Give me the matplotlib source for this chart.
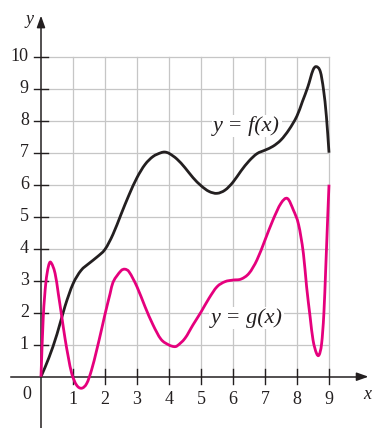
import numpy as np
import matplotlib
matplotlib.use("Agg")
import matplotlib.pyplot as plt
from matplotlib.path import Path
from matplotlib.patches import PathPatch

# ---- data ----
x_ticks = [1, 2, 3, 4, 5, 6, 7, 8, 9]
y_ticks = [1, 2, 3, 4, 5, 6, 7, 8, 9, 10]

f_x = [0, 0.25, 0.5, 0.75, 1.0, 1.25, 1.5, 1.75, 2.0, 2.25, 2.5, 2.75, 3.0,
       3.25, 3.5, 3.75, 3.87, 4.0, 4.25, 4.5, 4.75, 5.0, 5.25, 5.5, 5.75, 6.0,
       6.25, 6.5, 6.75, 7.0, 7.25, 7.5, 7.75, 8.0, 8.17, 8.34, 8.5, 8.6, 8.73,
       8.83, 8.92, 9.0]
f_y = [0, 0.6, 1.33, 2.2, 2.9, 3.32, 3.54, 3.74, 3.98, 4.45, 5.07, 5.68, 6.22,
       6.63, 6.88, 7.0, 7.02, 6.98, 6.8, 6.53, 6.22, 5.97, 5.79, 5.73, 5.83, 6.08,
       6.43, 6.74, 6.97, 7.08, 7.2, 7.4, 7.72, 8.15, 8.6, 9.06, 9.58, 9.69, 9.53,
       8.96, 8.12, 7.0]

g_x = [0, 0.07, 0.15, 0.23, 0.3, 0.44, 0.54, 0.65, 0.75, 0.85, 0.96, 1.11,
       1.27, 1.43, 1.58, 1.74, 1.9, 2.0, 2.16, 2.25, 2.5, 2.62, 2.75, 3.0, 3.25,
       3.5, 3.75, 4.0, 4.16, 4.25, 4.5, 4.75, 5.0, 5.25, 5.5, 5.75, 6.0, 6.25,
       6.5, 6.75, 7.0, 7.25, 7.5, 7.7, 7.89, 8.05, 8.2, 8.3, 8.41, 8.5, 8.61,
       8.69, 8.77, 8.84, 8.9, 8.96, 9.0]
g_y = [0, 1.85, 2.92, 3.44, 3.58, 3.23, 2.6, 1.87, 1.2, 0.63, 0.1, -0.26,
       -0.36, -0.21, 0.21, 0.83, 1.51, 1.95, 2.6, 2.95, 3.31, 3.36, 3.28, 2.81, 2.19,
       1.62, 1.17, 0.99, 0.94, 0.96, 1.2, 1.62, 2.02, 2.45, 2.81, 2.97, 3.02, 3.05,
       3.23, 3.65, 4.27, 4.9, 5.42, 5.57, 5.2, 4.75, 3.85, 2.81, 1.87, 1.15, 0.73,
       0.68, 1.04, 1.98, 3.44, 5.0, 6.0]

f_label = "y = f(x)"
g_label = "y = g(x)"

BLACK = "#231f20"
MAGENTA = "#e5007d"
GRID = "#c6c6c6"


def smooth_path(xs, ys):
    """Cubic Hermite curve through the read points, as Bezier segments."""
    x = np.asarray(xs, float)
    y = np.asarray(ys, float)
    n = len(x)
    m = np.empty(n)
    m[0] = (y[1] - y[0]) / (x[1] - x[0])
    m[-1] = (y[-1] - y[-2]) / (x[-1] - x[-2])
    for i in range(1, n - 1):
        m[i] = (y[i + 1] - y[i - 1]) / (x[i + 1] - x[i - 1])
    verts = [(x[0], y[0])]
    codes = [Path.MOVETO]
    for i in range(n - 1):
        h = x[i + 1] - x[i]
        verts += [(x[i] + h / 3, y[i] + m[i] * h / 3),
                  (x[i + 1] - h / 3, y[i + 1] - m[i + 1] * h / 3),
                  (x[i + 1], y[i + 1])]
        codes += [Path.CURVE4] * 3
    return Path(verts, codes)


W, H = 372, 428
fig = plt.figure(figsize=(W / 100, H / 100), dpi=100)
ax = fig.add_axes([0, 0, 1, 1])
ax.set_axis_off()
unit = 32.0
x0px, y0px = 41.0, 376.7
ax.set_xlim(-x0px / unit, (W - x0px) / unit)
ax.set_ylim(-(H - y0px) / unit, y0px / unit)

xmax = x_ticks[-1]
ymax = y_ticks[-1]
# grid
for xv in x_ticks:
    ax.plot([xv, xv], [0, ymax], color=GRID, lw=0.9, zorder=1)
for yv in y_ticks:
    ax.plot([0, xmax], [yv, yv], color=GRID, lw=0.9, zorder=1)

# axes
ax.plot([-0.95, 10.1], [0, 0], color=BLACK, lw=1.1, zorder=3)
ax.plot([0, 0], [-1.7, 11.1], color=BLACK, lw=1.1, zorder=3)
ax.annotate("", xy=(10.32, 0), xytext=(9.9, 0),
            arrowprops=dict(arrowstyle="-|>,head_length=0.7,head_width=0.25",
                            color=BLACK, lw=1.1), zorder=4)
ax.annotate("", xy=(0, 11.37), xytext=(0, 10.95),
            arrowprops=dict(arrowstyle="-|>,head_length=0.7,head_width=0.25",
                            color=BLACK, lw=1.1), zorder=4)

# ticks
tl = 0.23
for xv in x_ticks:
    ax.plot([xv, xv], [-tl, tl], color=BLACK, lw=1.0, zorder=3)
for yv in y_ticks:
    ax.plot([-tl, tl], [yv, yv], color=BLACK, lw=1.0, zorder=3)

serif = ["Liberation Serif", "DejaVu Serif"]
fs = 13
for xv in x_ticks:
    ax.text(xv, -0.45, str(xv), ha="center", va="top", fontsize=fs, family=serif, color=BLACK)
for yv in y_ticks:
    ax.text(-0.38, yv, str(yv), ha="right", va="center", fontsize=fs, family=serif, color=BLACK)
ax.text(-0.3, -0.3, "0", ha="right", va="top", fontsize=fs, family=serif, color=BLACK)
ax.text(-0.25, 11.15, "y", ha="right", va="center", fontsize=fs, family=serif,
        style="italic", color=BLACK)
ax.text(10.31, -0.3, "x", ha="right", va="top", fontsize=fs, family=serif,
        style="italic", color=BLACK)

# curves
ax.add_patch(PathPatch(smooth_path(f_x, f_y), fill=False, edgecolor=BLACK,
                       lw=2.0, zorder=5, capstyle="butt", joinstyle="round"))
ax.add_patch(PathPatch(smooth_path(g_x, g_y), fill=False, edgecolor=MAGENTA,
                       lw=2.0, zorder=5, capstyle="butt", joinstyle="round"))

box = dict(facecolor="white", edgecolor="none", pad=1.0)
ax.text(6.43, 7.83, f_label, ha="center", va="center", fontsize=16, family=serif,
        style="italic", color=BLACK, bbox=box, zorder=6)
ax.text(6.43, 1.83, g_label, ha="center", va="center", fontsize=16, family=serif,
        style="italic", color=BLACK, bbox=box, zorder=6)

fig.savefig("out.png", dpi=100)
